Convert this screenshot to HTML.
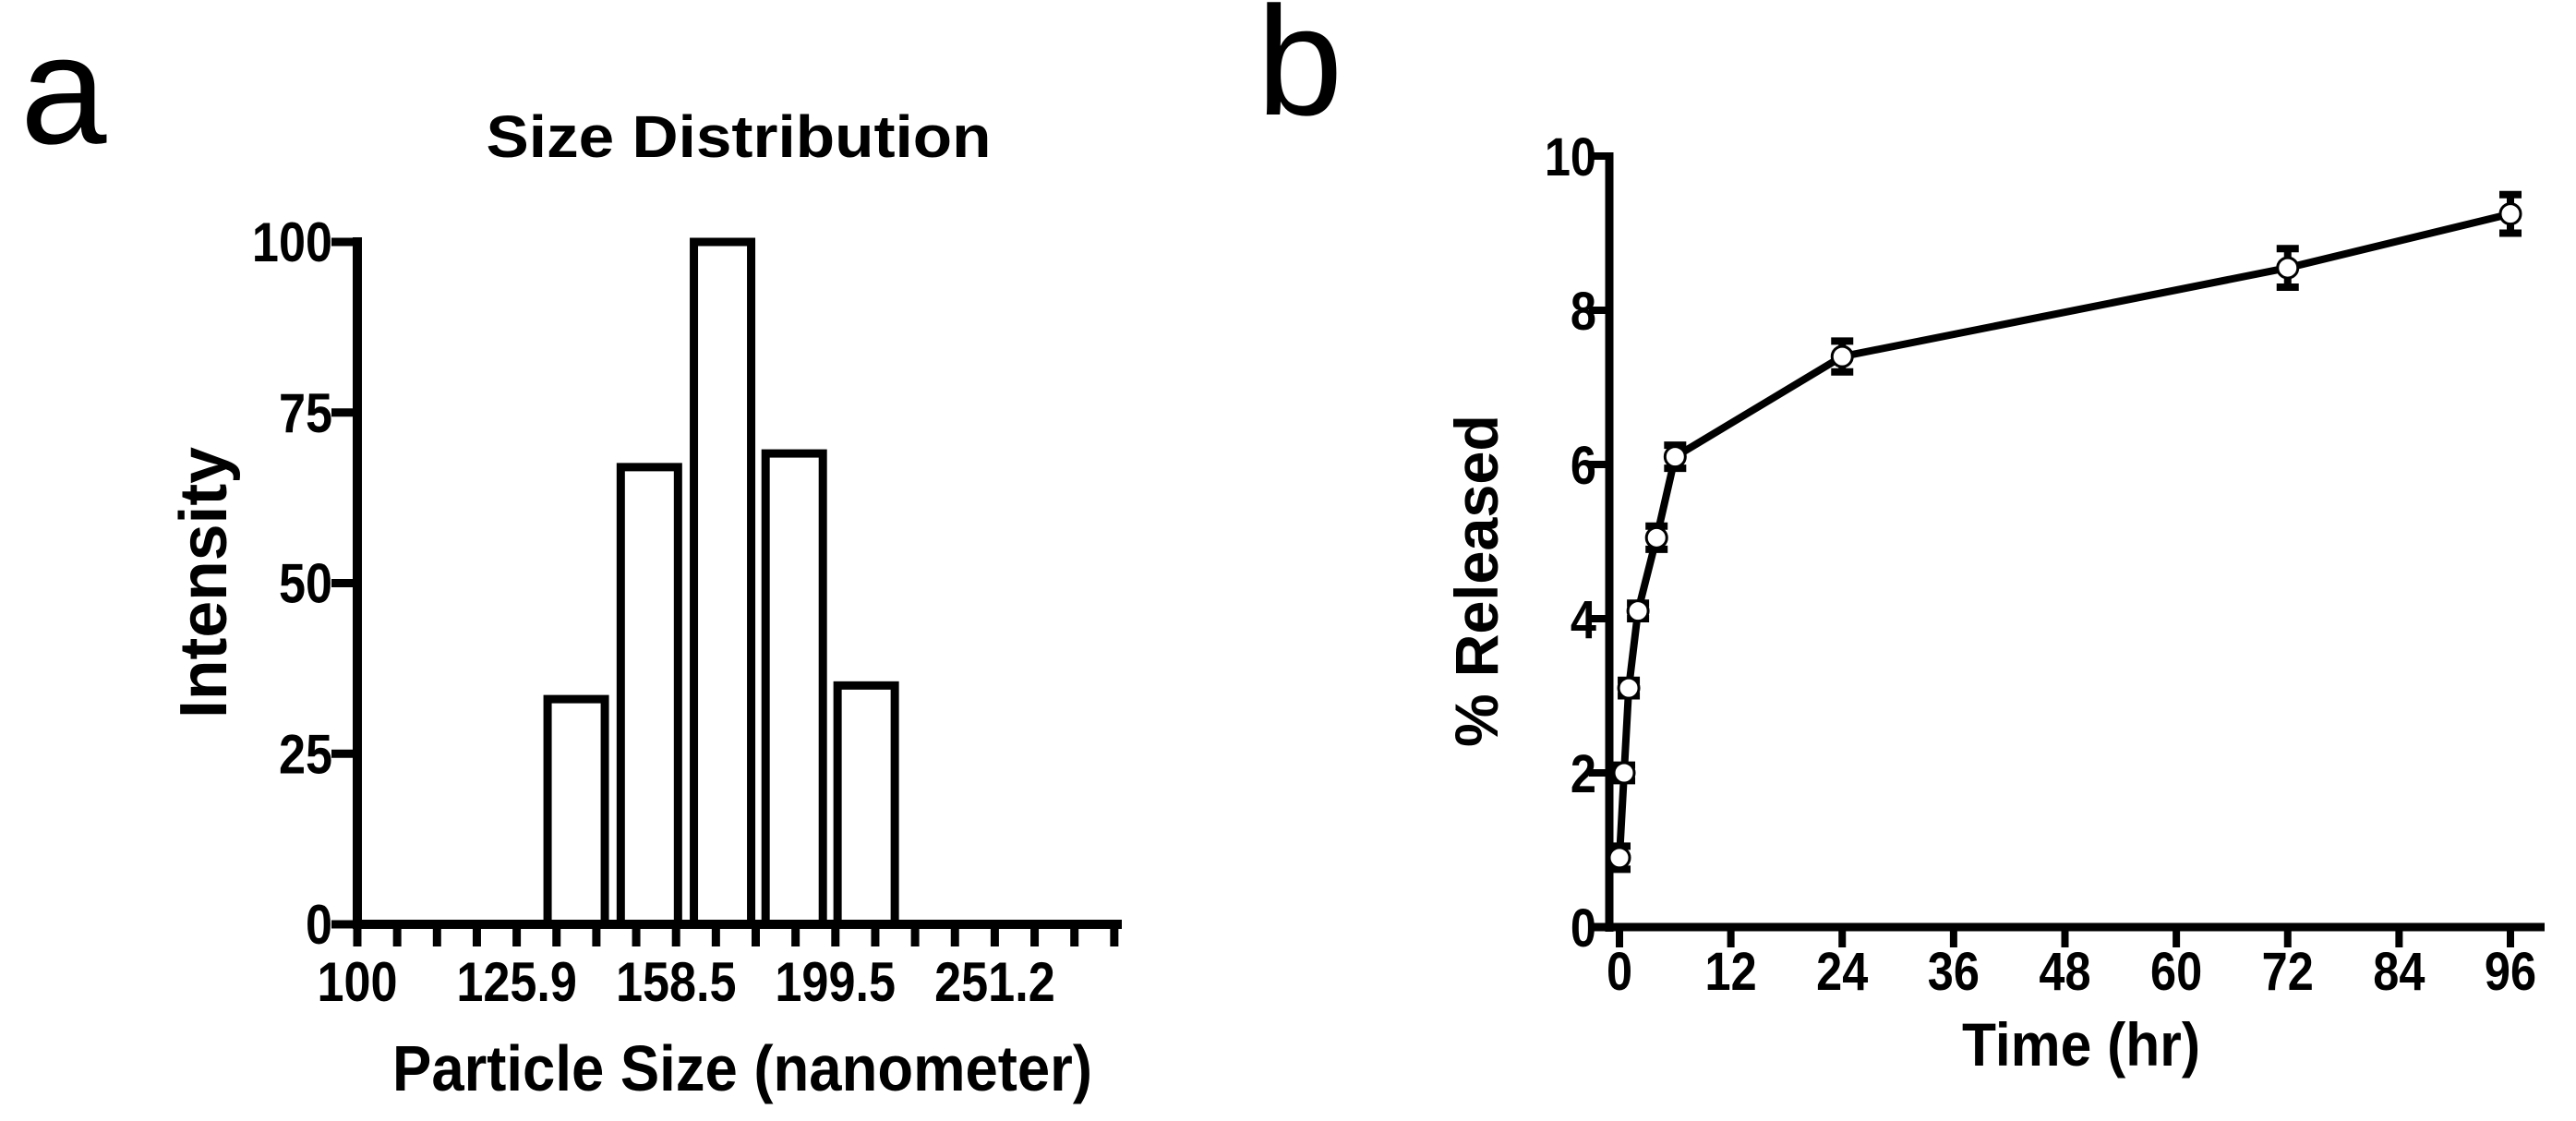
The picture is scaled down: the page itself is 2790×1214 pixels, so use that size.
<!DOCTYPE html>
<html><head><meta charset="utf-8"><style>
html,body{margin:0;padding:0;background:#fff;}
svg{display:block;}
text{font-family:"Liberation Sans",Arial,sans-serif;fill:#000;}
</style></head><body>
<svg id="fig" width="2790" height="1214" viewBox="0 0 2790 1214" xmlns="http://www.w3.org/2000/svg">
<text x="22" y="155" font-size="168">a</text>
<text x="1361" y="124" font-size="168">b</text>
<text x="800" y="170" font-size="64" font-weight="bold" text-anchor="middle" textLength="547" lengthAdjust="spacingAndGlyphs">Size Distribution</text>
<text x="804" y="1181" font-size="70" font-weight="bold" text-anchor="middle" textLength="758" lengthAdjust="spacingAndGlyphs">Particle Size (nanometer)</text>
<text transform="translate(245,631) rotate(-90)" font-size="72" font-weight="bold" text-anchor="middle" textLength="294" lengthAdjust="spacingAndGlyphs">Intensity</text>
<text x="2254" y="1154" font-size="66" font-weight="bold" text-anchor="middle" textLength="258" lengthAdjust="spacingAndGlyphs">Time (hr)</text>
<text transform="translate(1622,629) rotate(-90)" font-size="66" font-weight="bold" text-anchor="middle" textLength="360" lengthAdjust="spacingAndGlyphs">% Released</text>
<g id="ga"></g>
<g id="gb"></g>
</svg>
<script>
// Chart A data
const sizeBins = [137.2, 152.5, 169.5, 188.0, 208.6];
const intensities = [33, 67, 100, 69, 35];
const aYTicks = [0, 25, 50, 75, 100];
const aXLabels = ["100", "125.9", "158.5", "199.5", "251.2"];
const aXLabelVals = [100, 125.9, 158.5, 199.5, 251.2];
// Chart B data
const times = [0, 0.5, 1, 2, 4, 6, 24, 72, 96];
const released = [0.9, 2.0, 3.1, 4.1, 5.05, 6.1, 7.4, 8.55, 9.25];
const releasedErr = [0.15, 0.1, 0.1, 0.1, 0.15, 0.15, 0.2, 0.25, 0.25];
const bYTicks = [0, 2, 4, 6, 8, 10];
const bXTicks = [0, 12, 24, 36, 48, 60, 72, 84, 96];

const NS = "http://www.w3.org/2000/svg";
function mk(parent, tag, attrs, txt) {
  const e = document.createElementNS(NS, tag);
  for (const k in attrs) e.setAttribute(k, attrs[k]);
  if (txt !== undefined) e.textContent = txt;
  parent.appendChild(e);
  return e;
}
// ---- Chart A ----
const ga = document.getElementById('ga');
const ax0 = 387, axEnd = 1215, ay0 = 1001, ayTop = 262;
const pxPerLog = 1726;
const xa = v => ax0 + (Math.log10(v) - 2) * pxPerLog;
const ya = v => ay0 - v * (ay0 - ayTop) / 100;
const barW = 62;
sizeBins.forEach((s, i) => {
  const r = mk(ga, 'rect', {x: xa(s) - barW/2, y: ya(intensities[i]), width: barW, height: ay0 - ya(intensities[i]), fill: '#fff', stroke: '#000', 'stroke-width': 9});
  
  
});
let l = mk(ga, 'line', {x1: ax0, y1: ay0 + 5, x2: ax0, y2: ayTop - 5, stroke: '#000', 'stroke-width': 10});


l = mk(ga, 'line', {x1: ax0 - 5, y1: ay0, x2: axEnd, y2: ay0, stroke: '#000', 'stroke-width': 10});


aYTicks.forEach(v => {
  const t = mk(ga, 'line', {x1: ax0 - 28, y1: ya(v), x2: ax0, y2: ya(v), stroke: '#000', 'stroke-width': 9});
  
  
  const tx = mk(ga, 'text', {transform: `translate(360,${ya(v) + 21}) scale(0.87,1)`, 'font-size': 60, 'font-weight': 'bold', 'text-anchor': 'end'}, String(v));
  
  
});
for (let k = 0; k <= 19; k++) {
  const x = ax0 + k * 0.025 * pxPerLog;
  const t = mk(ga, 'line', {x1: x, y1: ay0, x2: x, y2: ay0 + 24, stroke: '#000', 'stroke-width': 9});
  
  
}
aXLabels.forEach((s, i) => {
  const tx = mk(ga, 'text', {transform: `translate(${xa(aXLabelVals[i])},1084) scale(0.87,1)`, 'font-size': 60, 'font-weight': 'bold', 'text-anchor': 'middle'}, s);
  
  
});
// ---- Chart B ----
const gb = document.getElementById('gb');
const bx0 = 1743, bxEnd = 2756, by0 = 1004, byTop = 169;
const xb = t => 1754 + t * (2719 - 1754) / 96;
const yb = v => by0 - v * (by0 - byTop) / 10;
l = mk(gb, 'line', {x1: bx0, y1: by0 + 5, x2: bx0, y2: byTop - 4, stroke: '#000', 'stroke-width': 9});


l = mk(gb, 'line', {x1: bx0 - 20, y1: by0, x2: bxEnd, y2: by0, stroke: '#000', 'stroke-width': 9});


bYTicks.forEach(v => {
  const t = mk(gb, 'line', {x1: bx0 - 22, y1: yb(v), x2: bx0, y2: yb(v), stroke: '#000', 'stroke-width': 8});
  
  
  const tx = mk(gb, 'text', {transform: `translate(1729,${yb(v) + 21}) scale(0.87,1)`, 'font-size': 58, 'font-weight': 'bold', 'text-anchor': 'end'}, String(v));
  
  
});
bXTicks.forEach(v => {
  const t = mk(gb, 'line', {x1: xb(v), y1: by0, x2: xb(v), y2: by0 + 22, stroke: '#000', 'stroke-width': 8});
  
  
  const tx = mk(gb, 'text', {transform: `translate(${xb(v)},1072) scale(0.87,1)`, 'font-size': 58, 'font-weight': 'bold', 'text-anchor': 'middle'}, String(v));
  
  
});
const pts = times.map((t, i) => `${xb(t)},${yb(released[i])}`).join(' ');
const pl = mk(gb, 'polyline', {points: pts, fill: 'none', stroke: '#000', 'stroke-width': 8, 'stroke-linejoin': 'round'});


times.forEach((t, i) => {
  const x = xb(t), yt = yb(released[i] + releasedErr[i]), yl = yb(released[i] - releasedErr[i]);
  const e = mk(gb, 'path', {d: `M${x},${yt}V${yl}M${x-12},${yt}H${x+12}M${x-12},${yl}H${x+12}`, stroke: '#000', 'stroke-width': 8, fill: 'none'});
  
  
  const c = mk(gb, 'circle', {cx: x, cy: yb(released[i]), r: 11, fill: '#fff', stroke: '#000', 'stroke-width': 3});
  
  
});
</script>
</body></html>
